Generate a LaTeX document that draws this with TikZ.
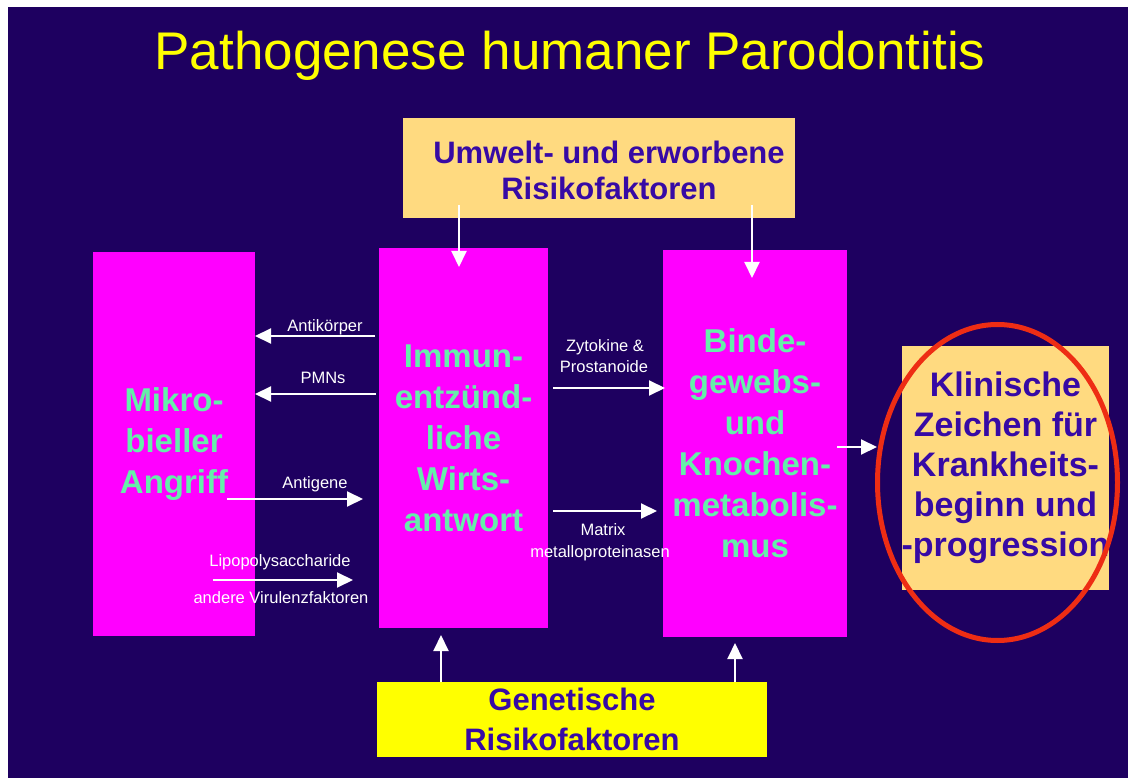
\documentclass[tikz,border=0pt]{standalone}
\usepackage{fontspec}
\setmainfont{Liberation Sans}
\usetikzlibrary{arrows.meta,shapes.geometric}
\definecolor{navy}{RGB}{30,0,96}
\definecolor{mgn}{RGB}{255,0,255}
\definecolor{mint}{RGB}{102,238,170}
\definecolor{purp}{RGB}{55,10,165}
\definecolor{peach}{RGB}{255,218,128}
\definecolor{yel}{RGB}{255,255,0}
\definecolor{redc}{RGB}{238,45,20}
\begin{document}
\begin{tikzpicture}[x=1pt,y=-1pt,
  box/.style={rectangle, inner sep=0pt, outer sep=0pt, align=center},
  magbox/.style={box, fill=mgn, text=mint, font=\bfseries\fontsize{33}{41}\selectfont},
  riskbox/.style={box, text=purp, font=\bfseries\fontsize{31}{38}\selectfont},
  arr/.style={draw=white, line width=2pt, -{Triangle[length=16pt,width=15pt]}},
  lbl/.style={text=white, font=\fontsize{16.5}{20}\selectfont, inner sep=0pt, anchor=base}]
\useasboundingbox (0,0) rectangle (1128,778);
\fill[white] (0,0) rectangle (1128,778);
\fill[navy] (8,7) rectangle (1128,778);
% title
\node[text=yel, font=\fontsize{53}{60}\selectfont, inner sep=0pt, anchor=base] (title) at (570,70) {Pathogenese humaner Parodontitis};
% boxes
\node[magbox, minimum width=162pt, minimum height=384pt] (b1) at (174,444) {Mikro-\\bieller\\Angriff};
\node[magbox, minimum width=169pt, minimum height=380pt] (b2) at (463.5,438) {Immun-\\entzünd-\\liche\\Wirts-\\antwort};
\node[magbox, minimum width=184pt, minimum height=387pt] (b3) at (755,443.5) {Binde-\\gewebs-\\und\\Knochen-\\metabolis-\\mus};
\node[box, fill=peach, minimum width=392pt, minimum height=100pt] (umw) at (599,168) {};
\node[riskbox, font=\bfseries\fontsize{31}{36}\selectfont] (umwt) at (609,170) {Umwelt- und erworbene\\Risikofaktoren};
\node[riskbox, fill=yel, minimum width=390pt, minimum height=75pt, font=\bfseries\fontsize{31}{40}\selectfont] (gen) at (572,719.5) {Genetische\\Risikofaktoren};
\node[riskbox, fill=peach, minimum width=205pt, minimum height=244pt, font=\bfseries\fontsize{34}{40}\selectfont] (klin) at (1005.5,468) {Klinische\\Zeichen für\\Krankheits-\\beginn und\\-progression};
\node[ellipse, draw=redc, line width=5pt, minimum width=240pt, minimum height=316pt, inner sep=0pt] (ell) at (997.5,482.5) {};
% arrows between b1 and b2
\draw[arr, shorten <=4pt] (b2.west |- 0,336) -- (b1.east |- 0,336);
\draw[arr, shorten <=3pt] (b2.west |- 0,394) -- (b1.east |- 0,394);
\draw[arr, shorten <=-28pt, shorten >=16pt] (b1.east |- 0,499) -- (b2.west |- 0,499);
\draw[arr, shorten <=-42pt, shorten >=26pt] (b1.east |- 0,580) -- (b2.west |- 0,580);
\node[lbl] (l1) at (325,331) {Antikörper};
\node[lbl] (l2) at (323,383) {PMNs};
\node[lbl] (l3) at (315,488) {Antigene};
\node[lbl] (l4) at (280,566) {Lipopolysaccharide};
\node[lbl] (l5) at (281,603) {andere Virulenzfaktoren};
% arrows between b2 and b3
\draw[arr, shorten <=5pt, shorten >=-2pt] (b2.east |- 0,388) -- (b3.west |- 0,388);
\draw[arr, shorten <=5pt, shorten >=6pt] (b2.east |- 0,511) -- (b3.west |- 0,511);
\node[lbl] (l6) at (605,351) {Zytokine \&};
\node[lbl] (l7) at (604,372) {Prostanoide};
\node[lbl] (l8) at (603,535) {Matrix};
\node[lbl] (l9) at (600,557) {metalloproteinasen};
% b3 to clinical signs
\draw[arr, shorten <=-10pt, shorten >=-2pt] (b3.east |- 0,447) -- (ell.west |- 0,447);
% risk factor arrows
\draw[arr, shorten <=-13pt, shorten >=-19pt] (umw.south -| 459,0) -- (b2.north -| 459,0);
\draw[arr, shorten <=-13pt, shorten >=-28pt] (umw.south -| 752,0) -- (b3.north -| 752,0);
\draw[arr, shorten >=7pt] (gen.north -| 441,0) -- (b2.south -| 441,0);
\draw[arr, shorten >=6pt] (gen.north -| 735,0) -- (b3.south -| 735,0);
\end{tikzpicture}
\end{document}
